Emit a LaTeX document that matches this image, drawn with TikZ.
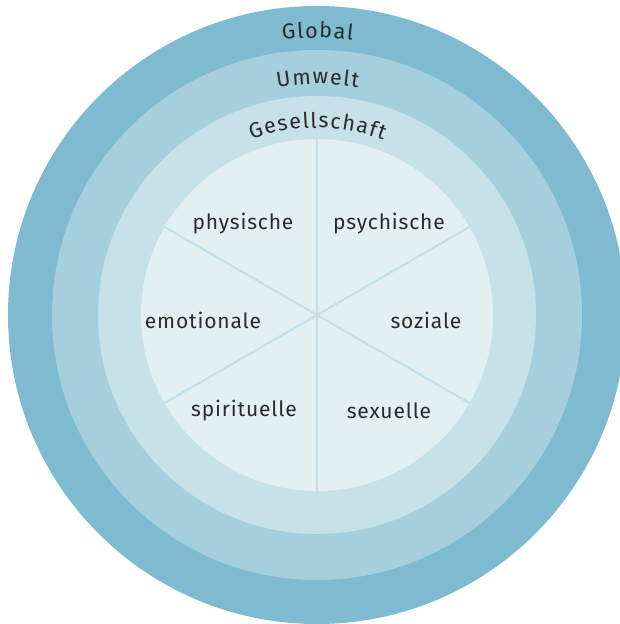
\documentclass[tikz,border=0pt]{standalone}
\usepackage{fontspec}
\setmainfont{Fira Sans}
\newfontfamily\dimfont[LetterSpace=4]{Fira Sans}
\usetikzlibrary{decorations.text}

\definecolor{ringglobal}{HTML}{7EBBD0}
\definecolor{ringumwelt}{HTML}{A6CFDE}
\definecolor{ringgesell}{HTML}{C7E1E9}
\definecolor{coreblue}{HTML}{E2EFF3}
\definecolor{spokeblue}{HTML}{C2DEE8}
\definecolor{labelgray}{HTML}{2B2B2B}

\newcommand{\ringfont}{\color{labelgray}\fontsize{21.5}{21.5}\selectfont\kern1.4pt}

\begin{document}
\begin{tikzpicture}[x=1pt,y=1pt,
    dimension/.style={text=labelgray, font=\dimfont\fontsize{21}{21}\selectfont, inner sep=0pt},
    ringlabel/.style={decorate, decoration={text along path, text align=center, text={|\ringfont|#1}}}
  ]
  \useasboundingbox (-317,-309) rectangle (303,315);
  \fill[white] (-317,-309) rectangle (303,315);

  % rings
  \fill[ringglobal] (0,0) circle (309);
  \fill[ringumwelt] (0,0) circle (265);
  \fill[ringgesell] (0,0) circle (219);
  \fill[coreblue] (0,0) circle (176);

  % spokes
  \coordinate (mitte) at (0,0);
  \foreach \a in {90,30,-30,-90,-150,150}
    \draw[spokeblue, line width=2pt] (mitte) -- (\a:176);

  % ring labels
  \path[ringlabel=Global] (170:277) arc (170:10:277);
  \path[ringlabel=Umwelt] (170:231) arc (170:10:231);
  \path[ringlabel=Gesellschaft] (170:187) arc (170:10:187);

  % dimensions
  \node[dimension] (physisch) at (-74,91) {physische};
  \node[dimension] (psychisch) at (72,91) {psychische};
  \node[dimension] (emotional) at (-114,-5) {emotionale};
  \node[dimension] (sozial) at (109,-5) {soziale};
  \node[dimension] (spirituell) at (-73,-96) {spirituelle};
  \node[dimension] (sexuell) at (72,-96) {sexuelle};
\end{tikzpicture}
\end{document}
